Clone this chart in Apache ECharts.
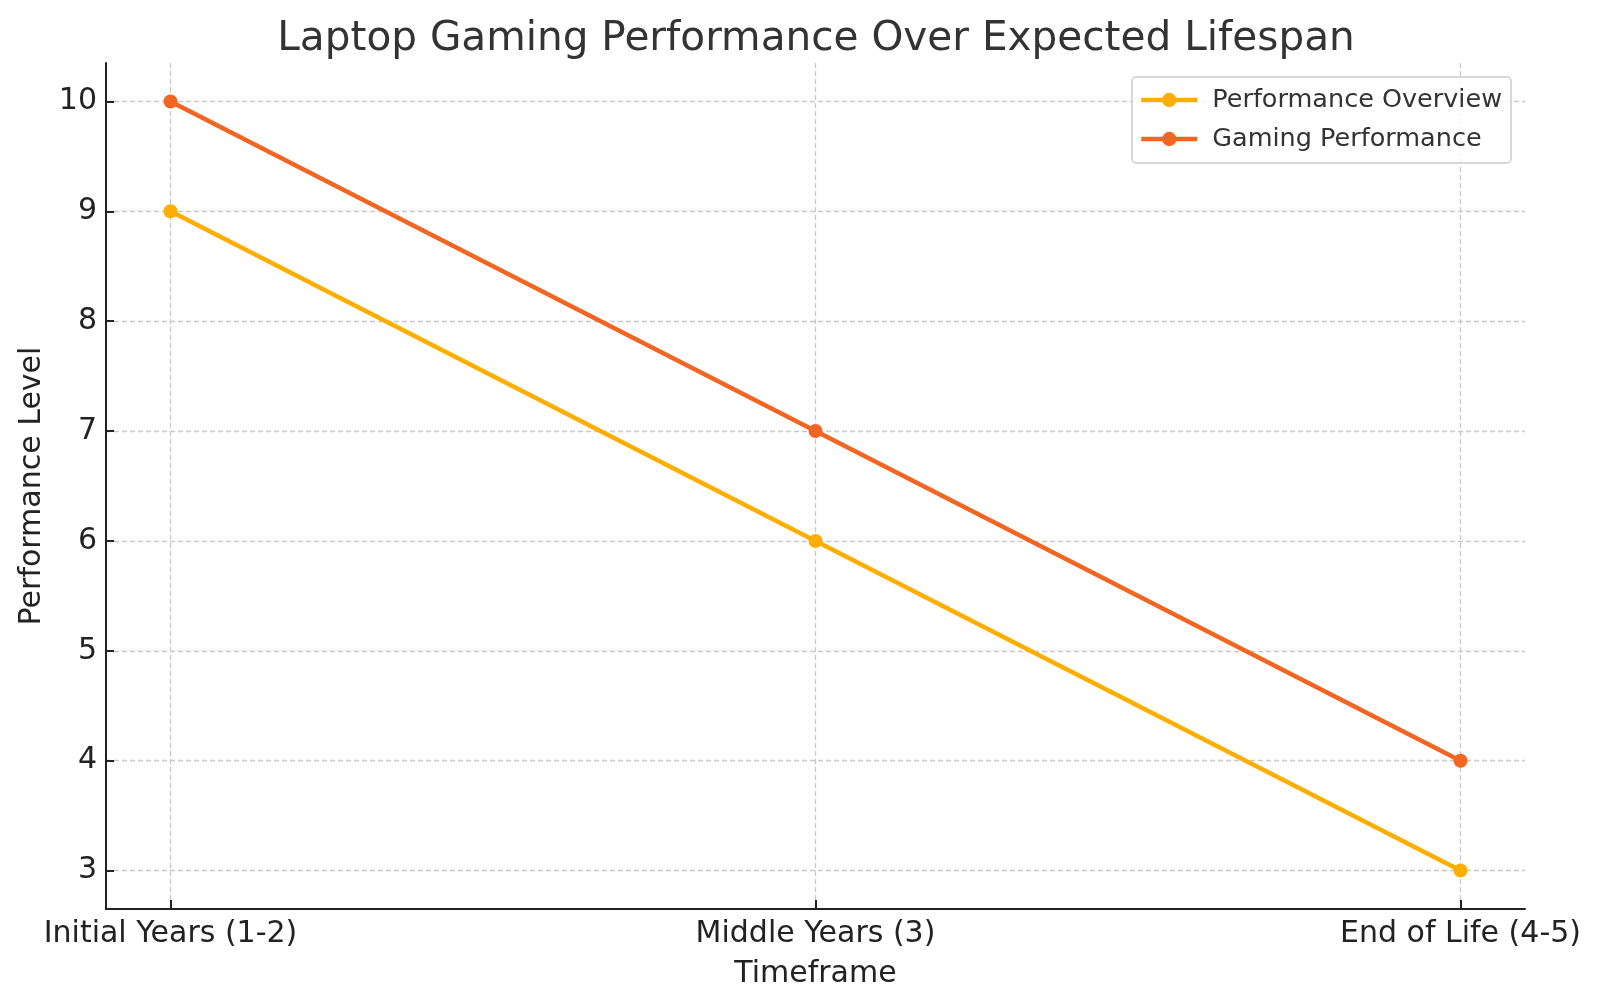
<!DOCTYPE html>
<html>
<head>
<meta charset="utf-8">
<script src="https://cdn.jsdelivr.net/npm/echarts@6/dist/echarts.min.js"></script>
<style>
html,body{margin:0;padding:0;background:#fff;}
#chart{width:1600px;height:1007px;}
</style>
</head>
<body>
<div id="chart"></div>
<script>
const categories = ['Initial Years (1-2)', 'Middle Years (3)', 'End of Life (4-5)'];
const performanceOverview = [9, 6, 3];
const gamingPerformance = [10, 7, 4];
const yTicks = [3, 4, 5, 6, 7, 8, 9, 10];
const xTicks = [0, 1, 2];

const FONT = 'DejaVu Sans';
const chart = echarts.init(document.getElementById('chart'));

function toPoints(vals) { return vals.map((v, i) => [i, v]); }

const gridLine = { show: true, lineStyle: { color: '#c8c8c8', width: 1.3, type: [5, 3] } };

chart.setOption({
  backgroundColor: '#fff',
  animation: false,
  title: {
    text: 'Laptop Gaming Performance Over Expected Lifespan',
    left: 811, top: 14, textAlign: 'center',
    textStyle: { fontFamily: FONT, fontSize: 40.6, fontWeight: 'normal', color: '#333333' }
  },
  legend: {
    orient: 'vertical',
    left: 1132, top: 77,
    padding: [10, 9, 11, 7],
    borderColor: '#cccccc', borderWidth: 1.5, borderRadius: 4,
    backgroundColor: 'rgba(255,255,255,0.8)',
    itemWidth: 56, itemHeight: 18, itemGap: 13,
    lineStyle: { width: 4.5 },
    textStyle: { fontFamily: FONT, fontSize: 25.5, color: '#333333', padding: [0, 0, 0, 10] },
    data: ['Performance Overview', 'Gaming Performance']
  },
  grid: { left: 106, right: 75, top: 63, bottom: 98, containLabel: false },
  xAxis: {
    type: 'value', min: -0.1, max: 2.1,
    name: 'Timeframe', nameLocation: 'middle', nameGap: 50,
    nameTextStyle: { fontFamily: FONT, fontSize: 30, color: '#222222' },
    axisLine: { show: true, onZero: false, lineStyle: { color: '#222222', width: 2 } },
    axisTick: { show: true, inside: true, length: 9, customValues: xTicks, lineStyle: { color: '#222222', width: 2 } },
    axisLabel: { customValues: xTicks, margin: 10, fontFamily: FONT, fontSize: 30, color: '#222222',
      formatter: v => categories[Math.round(v)] },
    splitLine: Object.assign({ customValues: xTicks }, gridLine)
  },
  yAxis: {
    type: 'value', min: 2.65, max: 10.35,
    name: 'Performance Level', nameLocation: 'middle', nameGap: 59, nameRotate: 90,
    nameTextStyle: { fontFamily: FONT, fontSize: 30, color: '#222222' },
    axisLine: { show: true, onZero: false, lineStyle: { color: '#222222', width: 2 } },
    axisTick: { show: true, inside: true, length: 8, customValues: yTicks, lineStyle: { color: '#222222', width: 2 } },
    axisLabel: { customValues: yTicks, margin: 9, fontFamily: FONT, fontSize: 30, color: '#222222' },
    splitLine: Object.assign({ customValues: yTicks }, gridLine)
  },
  series: [
    {
      name: 'Performance Overview', type: 'line',
      data: toPoints(performanceOverview),
      symbol: 'circle', symbolSize: 14,
      color: '#FFAE00',
      lineStyle: { width: 4.5, color: '#FFAE00' },
      itemStyle: { color: '#FFAE00' }
    },
    {
      name: 'Gaming Performance', type: 'line',
      data: toPoints(gamingPerformance),
      symbol: 'circle', symbolSize: 14,
      color: '#F26522',
      lineStyle: { width: 4.5, color: '#F26522' },
      itemStyle: { color: '#F26522' }
    }
  ]
});
</script>
</body>
</html>
